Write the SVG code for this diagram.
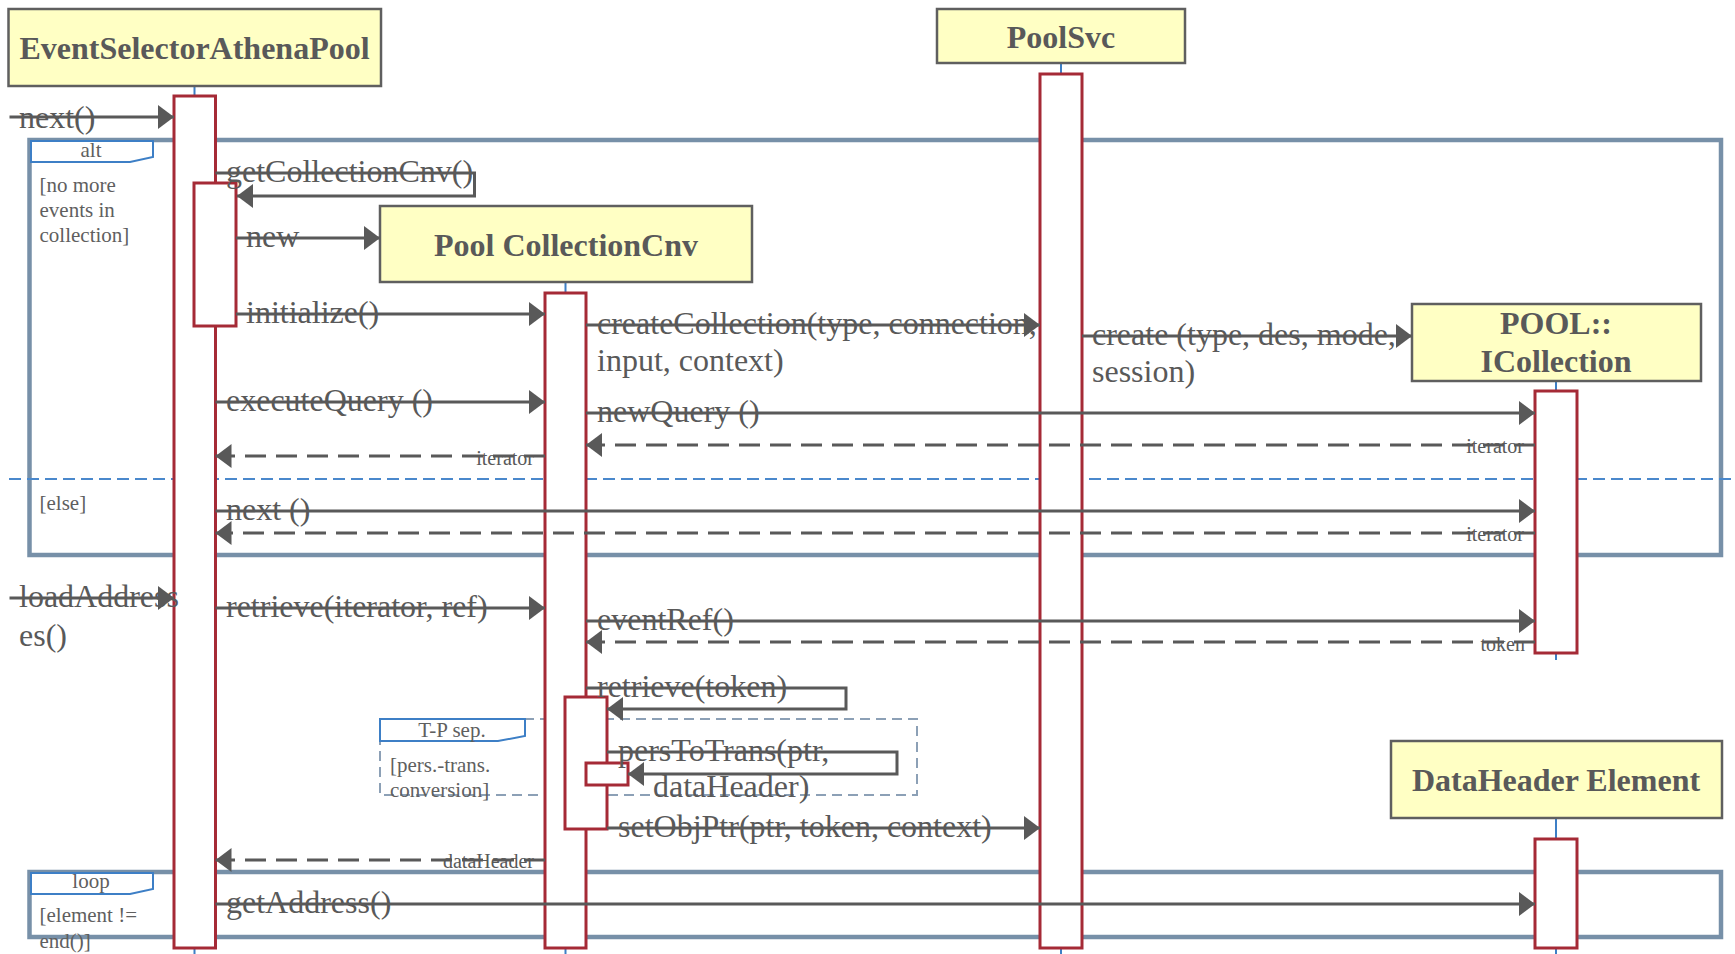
<svg xmlns="http://www.w3.org/2000/svg" width="1735" height="954" viewBox="0 0 1735 954">
<defs>
<style>
.hdr{fill:#ffffc4;stroke:#5f5f5f;stroke-width:2.5}
.hdrt{font-family:"Liberation Serif","Times New Roman",serif;font-weight:bold;font-size:32px;fill:#595959;text-anchor:middle}
.life{stroke:#3d7fc6;stroke-width:2;fill:none}
.act{fill:#ffffff;stroke:#a52a36;stroke-width:3}
.frame{fill:none;stroke:#7790a8;stroke-width:4.5}
.tag{fill:#ffffff;stroke:#3d7fc6;stroke-width:2}
.tp{fill:none;stroke:#8ca0b6;stroke-width:2;stroke-dasharray:10 6}
.elsel{stroke:#4a88cc;stroke-width:2;stroke-dasharray:12 6}
.msg{fill:none;stroke:#595959;stroke-width:3}
.ret{fill:none;stroke:#595959;stroke-width:3;stroke-dasharray:21 10}
.mt{font-family:"Liberation Serif","Times New Roman",serif;font-size:32px;fill:#595959}
.rt{font-family:"Liberation Serif","Times New Roman",serif;font-size:20px;fill:#595959;text-anchor:end}
.gt{font-family:"Liberation Serif","Times New Roman",serif;font-size:21px;fill:#5f5f5f}
.tt{font-family:"Liberation Serif","Times New Roman",serif;font-size:21px;fill:#5f5f5f;text-anchor:middle}
</style>
<marker id="arr" viewBox="0 0 16 24" refX="16" refY="12" markerWidth="16" markerHeight="24" markerUnits="userSpaceOnUse" orient="auto">
<path d="M0,0 L16,12 L0,24 Z" fill="#595959"/>
</marker>
</defs>
<rect width="1735" height="954" fill="#ffffff"/>

<g id="frame-alt">
<rect class="frame" x="29.5" y="140" width="1691.5" height="415"/>
<path class="tag" d="M31,141 H153 V157 L130,162 H31 Z"/>
<text class="tt" x="91" y="157">alt</text>
<text class="gt" x="39.5" y="192">[no more</text>
<text class="gt" x="39.5" y="217">events in</text>
<text class="gt" x="39.5" y="242">collection]</text>
<line class="elsel" x1="9" y1="479" x2="1735" y2="479"/>
<text class="gt" x="39.5" y="510">[else]</text>
</g>

<g id="frame-loop">
<rect class="frame" x="29.5" y="872" width="1691.5" height="65"/>
<path class="tag" d="M31,873 H153 V889 L130,894 H31 Z"/>
<text class="tt" x="91" y="888">loop</text>
<text class="gt" x="39.5" y="922">[element !=</text>
<text class="gt" x="39.5" y="948">end()]</text>
</g>

<g id="frame-tp">
<rect class="tp" x="380" y="719" width="537" height="76"/>
<path class="tag" d="M380,719 H525 V736 L498,741 H380 Z"/>
<text class="tt" x="452" y="737">T-P sep.</text>
<text class="gt" x="390" y="772">[pers.-trans.</text>
<text class="gt" x="390" y="797">conversion]</text>
</g>

<g id="EventSelectorAthenaPool">
<line class="life" x1="194.5" y1="86" x2="194.5" y2="954"/>
<rect class="hdr" x="8.5" y="9" width="372.5" height="77"/>
<text class="hdrt" x="194.5" y="59">EventSelectorAthenaPool</text>
<rect class="act" x="174" y="96" width="41.5" height="852"/>
<rect class="act" x="194" y="183" width="42" height="143"/>
</g>

<g id="PoolSvc">
<line class="life" x1="1061" y1="63" x2="1061" y2="954"/>
<rect class="hdr" x="937" y="9" width="248" height="54"/>
<text class="hdrt" x="1061" y="48">PoolSvc</text>
<rect class="act" x="1040" y="74" width="42" height="874"/>
</g>

<g id="PoolCollectionCnv">
<line class="life" x1="565.5" y1="282" x2="565.5" y2="954"/>
<rect class="hdr" x="380" y="206" width="372" height="76"/>
<text class="hdrt" x="566" y="256">Pool CollectionCnv</text>
<rect class="act" x="545" y="293" width="41" height="655"/>
<rect class="act" x="565" y="697" width="42" height="132"/>
<rect class="act" x="586" y="763" width="42" height="22"/>
</g>

<g id="ICollection">
<line class="life" x1="1556" y1="381" x2="1556" y2="660"/>
<rect class="hdr" x="1412" y="304" width="289" height="77"/>
<text class="hdrt" x="1556" y="334">POOL::</text>
<text class="hdrt" x="1556" y="372">ICollection</text>
<rect class="act" x="1535" y="391" width="42" height="262"/>
</g>

<g id="DataHeaderElement">
<line class="life" x1="1556" y1="818" x2="1556" y2="954"/>
<rect class="hdr" x="1391" y="741" width="331" height="77"/>
<text class="hdrt" x="1556" y="791">DataHeader Element</text>
<rect class="act" x="1535" y="839" width="42" height="109"/>
</g>

<g id="connectors">
<text class="mt" x="19" y="128">next()</text>
<path class="msg" d="M9.5,117 H174" marker-end="url(#arr)"/>

<text class="mt" x="226" y="182">getCollectionCnv()</text>
<path class="msg" d="M215.5,173 H474.5 V196 H237" marker-end="url(#arr)"/>

<text class="mt" x="246" y="247">new</text>
<path class="msg" d="M236,238 H380" marker-end="url(#arr)"/>

<text class="mt" x="246" y="323">initialize()</text>
<path class="msg" d="M236,314 H545" marker-end="url(#arr)"/>

<text class="mt" x="597" y="334">createCollection(type, connection,</text>
<text class="mt" x="597" y="371">input, context)</text>
<path class="msg" d="M586,325 H1040" marker-end="url(#arr)"/>

<text class="mt" x="1092" y="345">create (type, des, mode,</text>
<text class="mt" x="1092" y="382">session)</text>
<path class="msg" d="M1082,336 H1412" marker-end="url(#arr)"/>

<text class="mt" x="226" y="411">executeQuery ()</text>
<path class="msg" d="M215.5,402 H545" marker-end="url(#arr)"/>

<text class="mt" x="597" y="422">newQuery ()</text>
<path class="msg" d="M586,413 H1535" marker-end="url(#arr)"/>

<text class="rt" x="1524" y="453">iterator</text>
<path class="ret" d="M1535,445 H586" marker-end="url(#arr)"/>

<text class="rt" x="534" y="465">iterator</text>
<path class="ret" d="M545,456 H215.5" marker-end="url(#arr)"/>

<text class="mt" x="226" y="520">next ()</text>
<path class="msg" d="M215.5,511 H1535" marker-end="url(#arr)"/>

<text class="rt" x="1524" y="541">iterator</text>
<path class="ret" d="M1535,533 H215.5" marker-end="url(#arr)"/>

<text class="mt" x="19" y="607">loadAddress</text>
<text class="mt" x="19" y="646">es()</text>
<path class="msg" d="M9.5,598 H174" marker-end="url(#arr)"/>

<text class="mt" x="226" y="617">retrieve(iterator, ref)</text>
<path class="msg" d="M215.5,608 H545" marker-end="url(#arr)"/>

<text class="mt" x="597" y="630">eventRef()</text>
<path class="msg" d="M586,621 H1535" marker-end="url(#arr)"/>

<text class="rt" x="1525" y="651">token</text>
<path class="ret" d="M1535,642 H586" marker-end="url(#arr)"/>

<text class="mt" x="597" y="697">retrieve(token)</text>
<path class="msg" d="M586,688 H846 V709 H607" marker-end="url(#arr)"/>

<text class="mt" x="618" y="761">persToTrans(ptr,</text>
<text class="mt" x="653" y="797">dataHeader)</text>
<path class="msg" d="M607,752 H897 V774 H628" marker-end="url(#arr)"/>

<text class="mt" x="618" y="837">setObjPtr(ptr, token, context)</text>
<path class="msg" d="M607,828 H1040" marker-end="url(#arr)"/>

<text class="rt" x="534" y="868">dataHeader</text>
<path class="ret" d="M545,860 H215.5" marker-end="url(#arr)"/>

<text class="mt" x="226" y="913">getAddress()</text>
<path class="msg" d="M215.5,904 H1535" marker-end="url(#arr)"/>
</g>
</svg>
